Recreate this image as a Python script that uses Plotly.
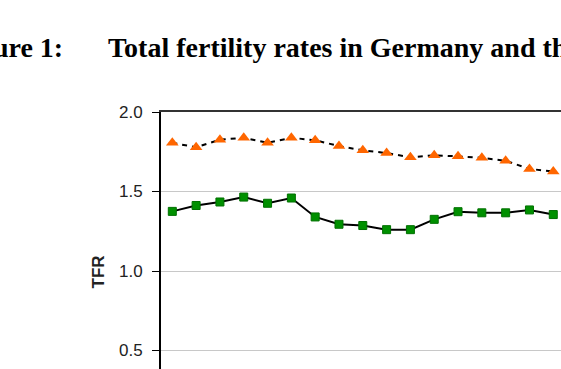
import plotly.graph_objects as go

years = list(range(1985, 2002))
germany = [1.375, 1.412, 1.434, 1.465, 1.426, 1.459, 1.340, 1.294, 1.286, 1.260, 1.260, 1.325, 1.373, 1.366, 1.366, 1.384, 1.355]
uk = [1.806, 1.778, 1.826, 1.838, 1.806, 1.838, 1.822, 1.786, 1.759, 1.742, 1.715, 1.728, 1.721, 1.712, 1.693, 1.642, 1.626]
yticks = [0.5, 1.0, 1.5, 2.0]
ytick_labels = ["0.5", "1.0", "1.5", "2.0"]

W, H = 561, 369
L, T = 161, 112
PW, PH = W - L, H - T

def px_x(p):
    return (p - L) / PW

def px_y(p):
    return (H - p) / PH

fig = go.Figure()
fig.add_trace(go.Scatter(
    x=years, y=uk, mode="lines+markers", name="United Kingdom",
    line=dict(color="black", width=2, dash="5px,5px"),
    marker=dict(symbol="triangle-up", size=11, color="#FF6600"),
))
fig.add_trace(go.Scatter(
    x=years, y=germany, mode="lines+markers", name="Germany",
    line=dict(color="black", width=2),
    marker=dict(symbol="square", size=8, color="#009000", line=dict(color="#007000", width=1)),
))

fig.update_layout(
    width=W, height=H,
    margin=dict(l=L, r=0, t=T, b=0, pad=0),
    paper_bgcolor="white", plot_bgcolor="white",
    showlegend=False,
    xaxis=dict(
        range=[1984.525, 1984.525 + PW / 23.81],
        side="top", showticklabels=False, ticks="",
        showgrid=False, zeroline=False,
        showline=True, linecolor="#333333", linewidth=2,
    ),
    yaxis=dict(
        range=[2.0 - PH / 159.0, 2.0],
        tickvals=yticks, ticktext=ytick_labels,
        ticks="outside", ticklen=7, tickcolor="black", tickwidth=1,
        ticklabelstandoff=6,
        tickfont=dict(family="Liberation Sans, Arial", size=17, color="#222222"),
        showgrid=True, gridcolor="#C8C8C8", gridwidth=1,
        zeroline=False,
        showline=True, linecolor="black", linewidth=2,
    ),
    annotations=[
        dict(text="<b>TFR</b>", xref="paper", yref="paper",
             x=px_x(98), y=px_y(272.5), xanchor="center", yanchor="middle",
             textangle=-90, showarrow=False,
             font=dict(family="Liberation Sans, Arial", size=17, color="#222222")),
        dict(text="<b>Figure 1:</b>", xref="paper", yref="paper",
             x=px_x(65), y=px_y(47), xanchor="right", yanchor="middle",
             showarrow=False,
             font=dict(family="Liberation Serif, Times New Roman", size=28, color="black")),
        dict(text="<b>Total fertility rates in Germany and the United Kingdom</b>", xref="paper", yref="paper",
             x=px_x(106), y=px_y(47), xanchor="left", yanchor="middle",
             showarrow=False,
             font=dict(family="Liberation Serif, Times New Roman", size=28, color="black")),
    ],
)

fig.write_html("out.html")
